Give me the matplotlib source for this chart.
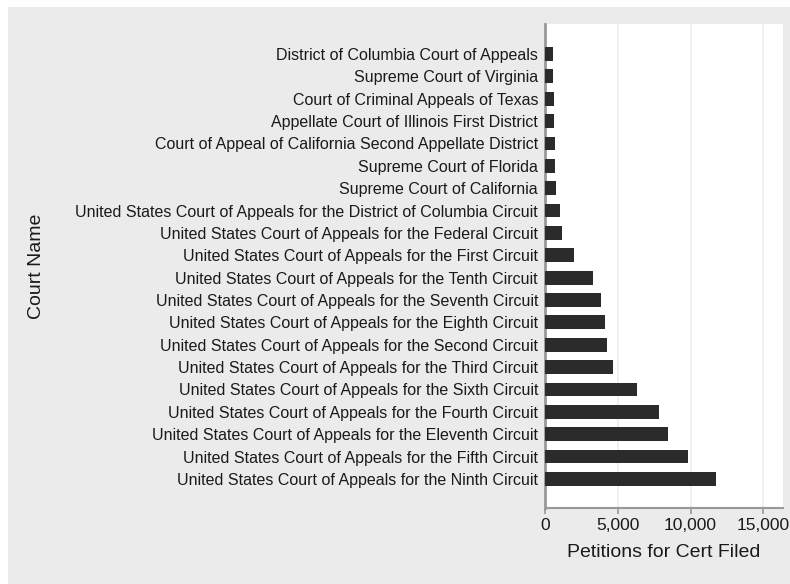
import matplotlib
matplotlib.use("Agg")
import matplotlib.pyplot as plt
from matplotlib.patches import Rectangle
from matplotlib.ticker import FuncFormatter

plt.rcParams['font.family'] = ['Liberation Sans', 'DejaVu Sans']

courts = [
    "District of Columbia Court of Appeals",
    "Supreme Court of Virginia",
    "Court of Criminal Appeals of Texas",
    "Appellate Court of Illinois First District",
    "Court of Appeal of California Second Appellate District",
    "Supreme Court of Florida",
    "Supreme Court of California",
    "United States Court of Appeals for the District of Columbia Circuit",
    "United States Court of Appeals for the Federal Circuit",
    "United States Court of Appeals for the First Circuit",
    "United States Court of Appeals for the Tenth Circuit",
    "United States Court of Appeals for the Seventh Circuit",
    "United States Court of Appeals for the Eighth Circuit",
    "United States Court of Appeals for the Second Circuit",
    "United States Court of Appeals for the Third Circuit",
    "United States Court of Appeals for the Sixth Circuit",
    "United States Court of Appeals for the Fourth Circuit",
    "United States Court of Appeals for the Eleventh Circuit",
    "United States Court of Appeals for the Fifth Circuit",
    "United States Court of Appeals for the Ninth Circuit",
]
petitions = [520, 580, 620, 640, 660, 720, 740, 1000, 1150, 2000,
             3300, 3850, 4100, 4250, 4700, 6300, 7800, 8450, 9800, 11750]
xticks = [0, 5000, 10000, 15000]

fig = plt.figure(figsize=(7.9, 5.84), dpi=100)
fig.patch.set_facecolor('white')
fig.patches.append(Rectangle((8/790, 0), 1, 1 - 7/584, transform=fig.transFigure,
                             facecolor='#ebebeb', edgecolor='none', zorder=-10))

ax = fig.add_axes([545/790, 1 - 508/584, (783 - 545)/790, (508 - 24)/584])
ax.set_zorder(1)
ax.set_facecolor('white')

pos = list(range(len(courts)))
ax.barh(pos, petitions, height=0.62, color='#2b2b2b', zorder=3)
ax.set_yticks(pos)
ax.set_yticklabels(courts, fontsize=11.5, color='#1a1a1a')
ax.set_ylim(19 + 1.3, -1.34)
ax.set_xlim(0, 16350)
ax.set_xticks(xticks)
ax.xaxis.set_major_formatter(FuncFormatter(lambda v, p: f"{int(v):,}"))
ax.tick_params(axis='x', labelsize=12.5, color='#999999', length=4, width=1.2,
               labelcolor='#1a1a1a', pad=3)
ax.tick_params(axis='y', length=0, pad=5)
ax.grid(axis='x', color='#eeeeee', linewidth=1.2, zorder=0)

for side in ['top', 'right']:
    ax.spines[side].set_visible(False)
ax.spines['left'].set_color('#999999')
ax.spines['left'].set_linewidth(2)
ax.spines['bottom'].set_color('#999999')
ax.spines['bottom'].set_linewidth(1.5)

ax.set_xlabel("Petitions for Cert Filed", fontsize=14, color='#1a1a1a', labelpad=8)
ax.set_ylabel("Court Name", fontsize=14, color='#1a1a1a')
ax.yaxis.set_label_coords(-(545 - 45)/(783 - 545), 0.5)

fig.savefig("out.png", dpi=100)
